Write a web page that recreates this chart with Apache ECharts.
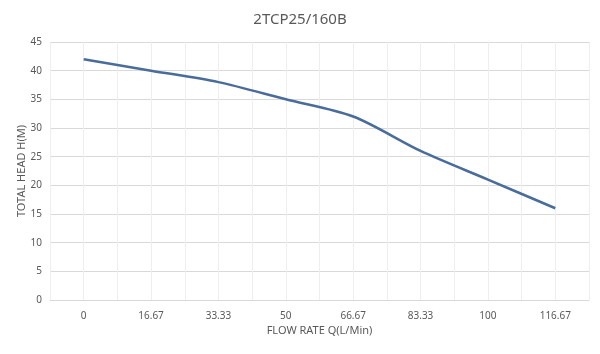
<!DOCTYPE html>
<html>
<head>
<meta charset="utf-8">
<script src="https://cdn.jsdelivr.net/npm/echarts@6/dist/echarts.min.js"></script>
<style>
  html, body { margin: 0; padding: 0; background: #fff; }
  #chart { width: 600px; height: 354px; }
</style>
</head>
<body>
<div id="chart"></div>
<script>
// 流量 / 扬程
var flowRates = ['0', '16.67', '33.33', '50', '66.67', '83.33', '100', '116.67'];
var heads = [42, 40, 38, 35, 32, 26, 21, 16];
var headTicks = { min: 0, max: 45, step: 5 };

var font = 'Noto Sans';
var textColor = '#595959';

var myChart = echarts.init(document.getElementById('chart'));
var option = {
    animation: false,
    title: {
        text: '2TCP25/160B',
        left: 'center',
        top: 7,
        textStyle: { color: textColor, fontSize: 15, fontWeight: 'normal', fontFamily: font }
    },
    grid: { left: 50, right: 11, top: 42, bottom: 54 },
    xAxis: [{
        type: 'category',
        data: flowRates,
        boundaryGap: true,
        name: 'FLOW RATE Q(L/Min)',
        nameLocation: 'middle',
        nameGap: 25,
        nameMoveOverlap: false,
        nameTextStyle: { color: textColor, fontSize: 11, fontFamily: font },
        axisLine: { lineStyle: { color: '#d9d9d9' } },
        axisTick: { show: false },
        axisLabel: { color: textColor, fontSize: 10, fontFamily: font, margin: 11 },
        splitLine: { show: false }
    }, {
        // 竖向网格线
        type: 'value',
        min: 0,
        max: flowRates.length * 2,
        interval: 1,
        show: true,
        position: 'bottom',
        axisLine: { show: false },
        axisTick: { show: false },
        axisLabel: { show: false },
        splitLine: { show: true, lineStyle: { color: '#eeeeee', width: 1 } }
    }],
    yAxis: {
        type: 'value',
        min: headTicks.min,
        max: headTicks.max,
        interval: headTicks.step,
        name: 'TOTAL HEAD H(M)',
        nameLocation: 'middle',
        nameGap: 23,
        nameMoveOverlap: false,
        nameTextStyle: { color: textColor, fontSize: 11, fontFamily: font },
        axisLine: { show: false },
        axisTick: { show: false },
        axisLabel: { color: textColor, fontSize: 10, fontFamily: font, margin: 8 },
        splitLine: { lineStyle: { color: '#d9d9d9' } }
    },
    series: [{
        type: 'line',
        xAxisIndex: 0,
        data: heads,
        smooth: 0.3,
        showSymbol: false,
        lineStyle: { color: '#4a6c9b', width: 2.5 }
    }]
};
myChart.setOption(option);
</script>
</body>
</html>
